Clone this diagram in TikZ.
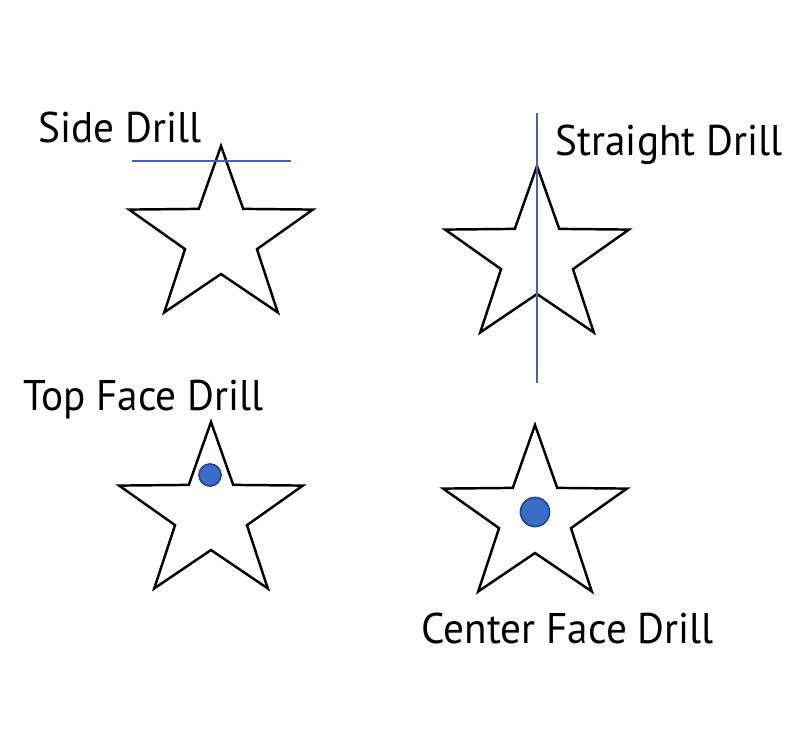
\documentclass[tikz,border=0pt]{standalone}
\usepackage{fontspec}
\setmainfont[FakeStretch=0.96]{PT Sans}
\usepackage{xcolor}
\usepackage{tikz}
\usetikzlibrary{calc}
\definecolor{drillblue}{RGB}{80,92,176}
\definecolor{dotblue}{RGB}{58,108,200}
\definecolor{dotedge}{RGB}{36,70,150}
\tikzset{
	starline/.style={line width=0.7pt,black,line join=miter},
	drillline/.style={line width=0.45pt,drillblue},
	drilldot/.style={fill=dotblue,draw=dotedge,line width=0.5pt},
	lbl/.style={anchor=base west,inner sep=0pt,font=\fontsize{12.2}{14}\selectfont},
	drillstar/.pic={
		\draw[starline,xscale=1.05] (90:92) \foreach \i in {0,...,4}{ -- ({126+72*\i}:36) -- ({162+72*\i}:92) } -- cycle;
		\coordinate (-c) at (0,0);
		\coordinate (-top) at (90:92);
	}
}

\begin{document}
\begin{tikzpicture}[x=0.01cm,y=0.01cm]
		\useasboundingbox (0,0) rectangle (794,-747);
		% stars
		\pic (sd) at (221,-238) {drillstar};
		\pic (st) at (537,-258) {drillstar};
		\pic (tf) at (211,-514) {drillstar};
		\pic (cf) at (535,-517) {drillstar};
		% labels
		\node[lbl] (sdtext) at (38,-142) {Side Drill};
		\node[lbl] (sttext) at (555,-155) {Straight Drill};
		\node[lbl] (tftext) at (23,-410) {Top Face Drill};
		\node[lbl] (cftext) at (421,-643) {Center Face Drill};
		% drill lines
		\coordinate (sdL) at (132,-161);
		\coordinate (sdR) at (291,-161);
		\draw[drillline] (sdL) -- (sdR);
		\coordinate (stT) at (537,-113);
		\coordinate (stB) at (537,-383);
		\draw[drillline] (stT) -- (stB);
		% drill dots
		\fill[drilldot] ($(tf-c)+(-1,39)$) circle (11);
		\fill[drilldot] ($(cf-c)+(0,5)$) circle (14.5);
	\end{tikzpicture}
\end{document}
